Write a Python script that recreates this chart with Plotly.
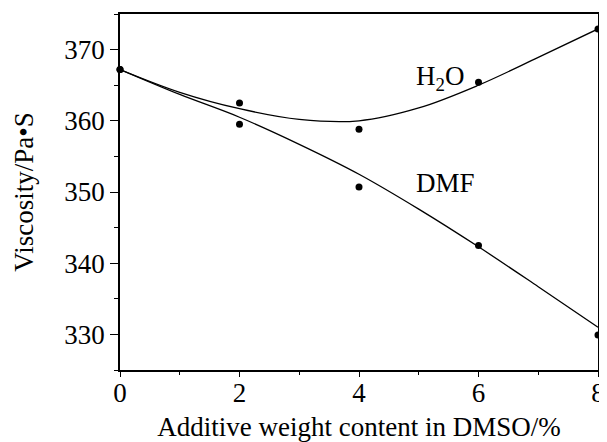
import plotly.graph_objects as go

# Measured data points
additive_pct = [0, 2, 4, 6, 8]
h2o_viscosity = [367.2, 362.5, 358.8, 365.4, 372.9]
dmf_viscosity = [367.2, 359.5, 350.7, 342.5, 329.9]

# Fitted curves
fit_x = [0, 1, 2, 3, 4, 5, 6, 7, 8]
h2o_fit = [367.2, 364.0, 361.7, 360.2, 360.0, 361.8, 365.0, 368.9, 372.9]
dmf_fit = [367.2, 363.7, 360.5, 356.7, 352.5, 347.6, 342.3, 336.7, 331.0]

x_ticks = [0, 2, 4, 6, 8]
y_ticks = [330, 340, 350, 360, 370]

FONT = "Liberation Serif, Times New Roman, serif"
FS = 27

fig = go.Figure()
for fy in (h2o_fit, dmf_fit):
    fig.add_trace(go.Scatter(x=fit_x, y=fy, mode="lines",
                             line=dict(color="black", width=1.3, shape="spline", smoothing=1.0),
                             showlegend=False, hoverinfo="skip", cliponaxis=False))
for vy in (h2o_viscosity, dmf_viscosity):
    fig.add_trace(go.Scatter(x=additive_pct, y=vy, mode="markers",
                             marker=dict(color="black", size=7),
                             showlegend=False, cliponaxis=False))

fig.add_annotation(x=5.35, y=366.0, text="H<sub>2</sub>O", showarrow=False,
                   font=dict(family=FONT, size=FS, color="black"))
fig.add_annotation(x=5.45, y=351.2, text="DMF", showarrow=False,
                   font=dict(family=FONT, size=FS, color="black"))

fig.update_xaxes(range=[0, 8], tickvals=x_ticks, ticks="outside", ticklen=5, tickwidth=1.3,
                 tickcolor="black", showline=True, linecolor="black", linewidth=1.6, mirror=True,
                 showgrid=False, zeroline=False, automargin=False, ticklabelstandoff=-7,
                 minor=dict(dtick=1, ticks="outside", ticklen=3, tickcolor="black", tickwidth=1),
                 tickfont=dict(family=FONT, size=FS, color="black"),
                 title=dict(text="Additive weight content in DMSO/%", standoff=18,
                            font=dict(family=FONT, size=FS, color="black")))
fig.update_yaxes(range=[325, 375], tickvals=y_ticks, ticks="outside", ticklen=8, tickwidth=1.3,
                 tickcolor="black", showline=True, linecolor="black", linewidth=1.6, mirror=True,
                 showgrid=False, zeroline=False, automargin=False,
                 minor=dict(dtick=5, ticks="outside", ticklen=4, tickcolor="black", tickwidth=1),
                 tickfont=dict(family=FONT, size=FS, color="black"),
                 title=dict(text="Viscosity/Pa\u2022S", standoff=23,
                            font=dict(family=FONT, size=FS, color="black")))

# the page body has an 8px margin, so the figure is sized and offset to fit the 607x442 window
fig.update_layout(width=599, height=434, margin=dict(l=112, r=9, t=6, b=72),
                  plot_bgcolor="white", paper_bgcolor="white")

fig.write_html("out.html")
